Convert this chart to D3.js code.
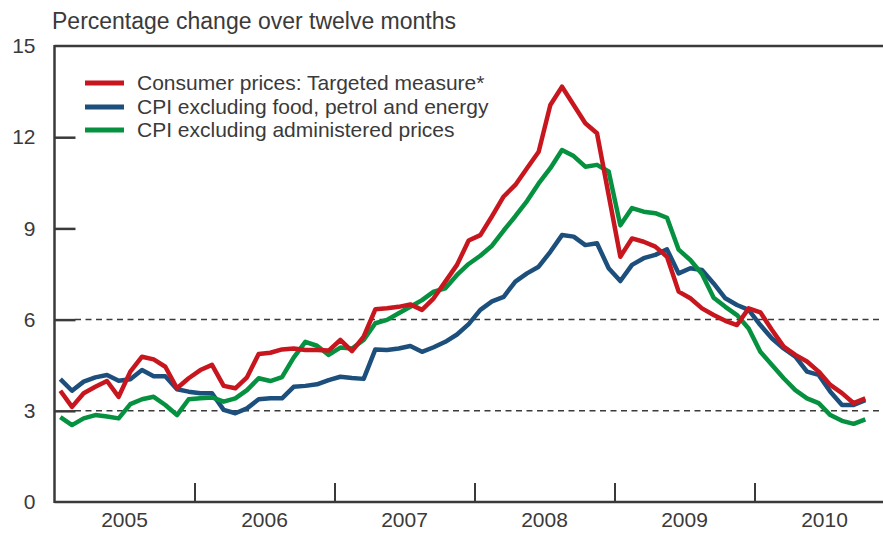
<!DOCTYPE html>
<html><head><meta charset="utf-8">
<script src="https://cdn.jsdelivr.net/npm/d3@7"></script>
<style>
html,body{margin:0;padding:0;background:#fff;}
svg{display:block;font-family:"Liberation Sans",Arial,sans-serif;}
</style></head>
<body><svg id="chart" width="883" height="536"></svg>
<script>
const years = ["2005","2006","2007","2008","2009","2010"];
const yTicks = [0,3,6,9,12,15];
const gridValues = [3,6];
const seriesNames = ["Consumer prices: Targeted measure*","CPI excluding food, petrol and energy","CPI excluding administered prices"];
const seriesColors = ["#c8161e","#1d4f7c","#05913f"];
// monthly values, Jan 2005 – Oct 2010
const targeted = [3.66,3.13,3.58,3.79,3.98,3.46,4.29,4.78,4.69,4.45,3.74,4.07,
  4.34,4.51,3.82,3.74,4.10,4.87,4.91,5.02,5.05,5.00,5.00,4.98,
  5.33,4.96,5.44,6.34,6.37,6.42,6.50,6.32,6.70,7.25,7.80,8.60,
  8.78,9.40,10.05,10.43,10.98,11.52,13.06,13.66,13.06,12.46,12.13,10.10,
  8.07,8.67,8.56,8.40,8.07,6.92,6.70,6.37,6.15,5.96,5.82,6.37,
  6.24,5.66,5.11,4.84,4.62,4.29,3.85,3.58,3.25,3.41];
const coreCPI = [4.04,3.66,3.96,4.10,4.18,3.99,4.04,4.34,4.14,4.14,3.71,3.63,
  3.58,3.58,3.03,2.92,3.08,3.38,3.41,3.41,3.79,3.82,3.87,4.01,
  4.12,4.08,4.05,5.02,5.00,5.05,5.13,4.94,5.09,5.27,5.51,5.85,
  6.32,6.60,6.75,7.25,7.52,7.74,8.23,8.78,8.73,8.45,8.51,7.69,
  7.27,7.80,8.02,8.13,8.31,7.52,7.69,7.63,7.19,6.70,6.48,6.32,
  5.82,5.38,5.05,4.78,4.29,4.18,3.63,3.19,3.19,3.35];
const exAdmin = [2.79,2.53,2.75,2.86,2.81,2.75,3.22,3.38,3.46,3.19,2.86,3.38,
  3.41,3.44,3.30,3.41,3.68,4.07,3.98,4.11,4.75,5.27,5.14,4.84,
  5.08,5.05,5.33,5.88,5.99,6.21,6.42,6.64,6.92,7.03,7.47,7.83,
  8.10,8.43,8.93,9.40,9.90,10.48,10.98,11.58,11.38,11.03,11.09,10.87,
  9.10,9.67,9.55,9.50,9.35,8.30,7.96,7.50,6.72,6.42,6.15,5.71,
  4.94,4.51,4.07,3.68,3.41,3.25,2.86,2.67,2.57,2.72];

const svg = d3.select("#chart");
const ink = "#3a3a3a";
const x = d3.scaleLinear().domain([0,72]).range([54.5,894.5]);
const y = d3.scaleLinear().domain([0,15]).range([502,46]);

// dashed gridlines
svg.append("g").selectAll("line").data(gridValues).join("line")
  .attr("x1",75).attr("x2",883).attr("y1",d=>y(d)).attr("y2",d=>y(d))
  .attr("stroke",ink).attr("stroke-width",1.5).attr("stroke-dasharray","6,4.5");

// y axis with inward ticks
const yAxis = d3.axisLeft(y).tickValues(yTicks).tickSize(-21).tickPadding(0).tickFormat(d3.format("d"));
const gy = svg.append("g").attr("transform","translate(54.5,0)").call(yAxis);
gy.select(".domain").remove();
gy.selectAll(".tick line").attr("stroke",ink).attr("stroke-width",2.5)
  .filter(d=>d===0||d===15).remove();
gy.selectAll(".tick text").attr("x",-19).attr("fill",ink)
  .style("font-size","21px").style("font-family","Liberation Sans, Arial, sans-serif");

// frame
svg.append("line").attr("x1",54.5).attr("x2",883).attr("y1",y(15)).attr("y2",y(15)).attr("stroke",ink).attr("stroke-width",2.5);
svg.append("line").attr("x1",54.5).attr("x2",883).attr("y1",y(0)).attr("y2",y(0)).attr("stroke",ink).attr("stroke-width",2.5);
svg.append("line").attr("x1",54.5).attr("x2",54.5).attr("y1",y(15)-1).attr("y2",y(0)+1).attr("stroke",ink).attr("stroke-width",2.5);

// x axis: year boundary ticks + centered labels
const xAxis = d3.axisBottom(x).tickValues([12,24,36,48,60]).tickSize(-19).tickFormat("");
const gx = svg.append("g").attr("transform",`translate(0,${y(0)})`).call(xAxis);
gx.select(".domain").remove();
gx.selectAll(".tick line").attr("stroke",ink).attr("stroke-width",2);
svg.append("g").selectAll("text").data(years).join("text")
  .attr("x",(d,i)=>x(i*12+6)).attr("y",527).attr("text-anchor","middle")
  .attr("fill",ink).style("font-size","21px").text(d=>d);

// title
svg.append("text").attr("x",52).attr("y",29).attr("fill",ink)
  .style("font-size","23px").text("Percentage change over twelve months");

// lines
const line = d3.line().x((d,i)=>x(i+0.5)).y(d=>y(d)).curve(d3.curveLinear);
const order = [[coreCPI,1],[exAdmin,2],[targeted,0]];
order.forEach(([data,k])=>{
  svg.append("path").datum(data).attr("d",line).attr("fill","none")
    .attr("stroke",seriesColors[k]).attr("stroke-width",4.5).attr("stroke-linejoin","round");
});

// legend
const legY = [83,107,130];
const lg = svg.append("g");
seriesNames.forEach((n,i)=>{
  lg.append("line").attr("x1",85).attr("x2",124).attr("y1",legY[i]).attr("y2",legY[i])
    .attr("stroke",seriesColors[i]).attr("stroke-width",5);
  lg.append("text").attr("x",137).attr("y",legY[i]).attr("dy","0.35em").attr("fill",ink)
    .style("font-size","21px").text(n);
});
</script></body></html>
